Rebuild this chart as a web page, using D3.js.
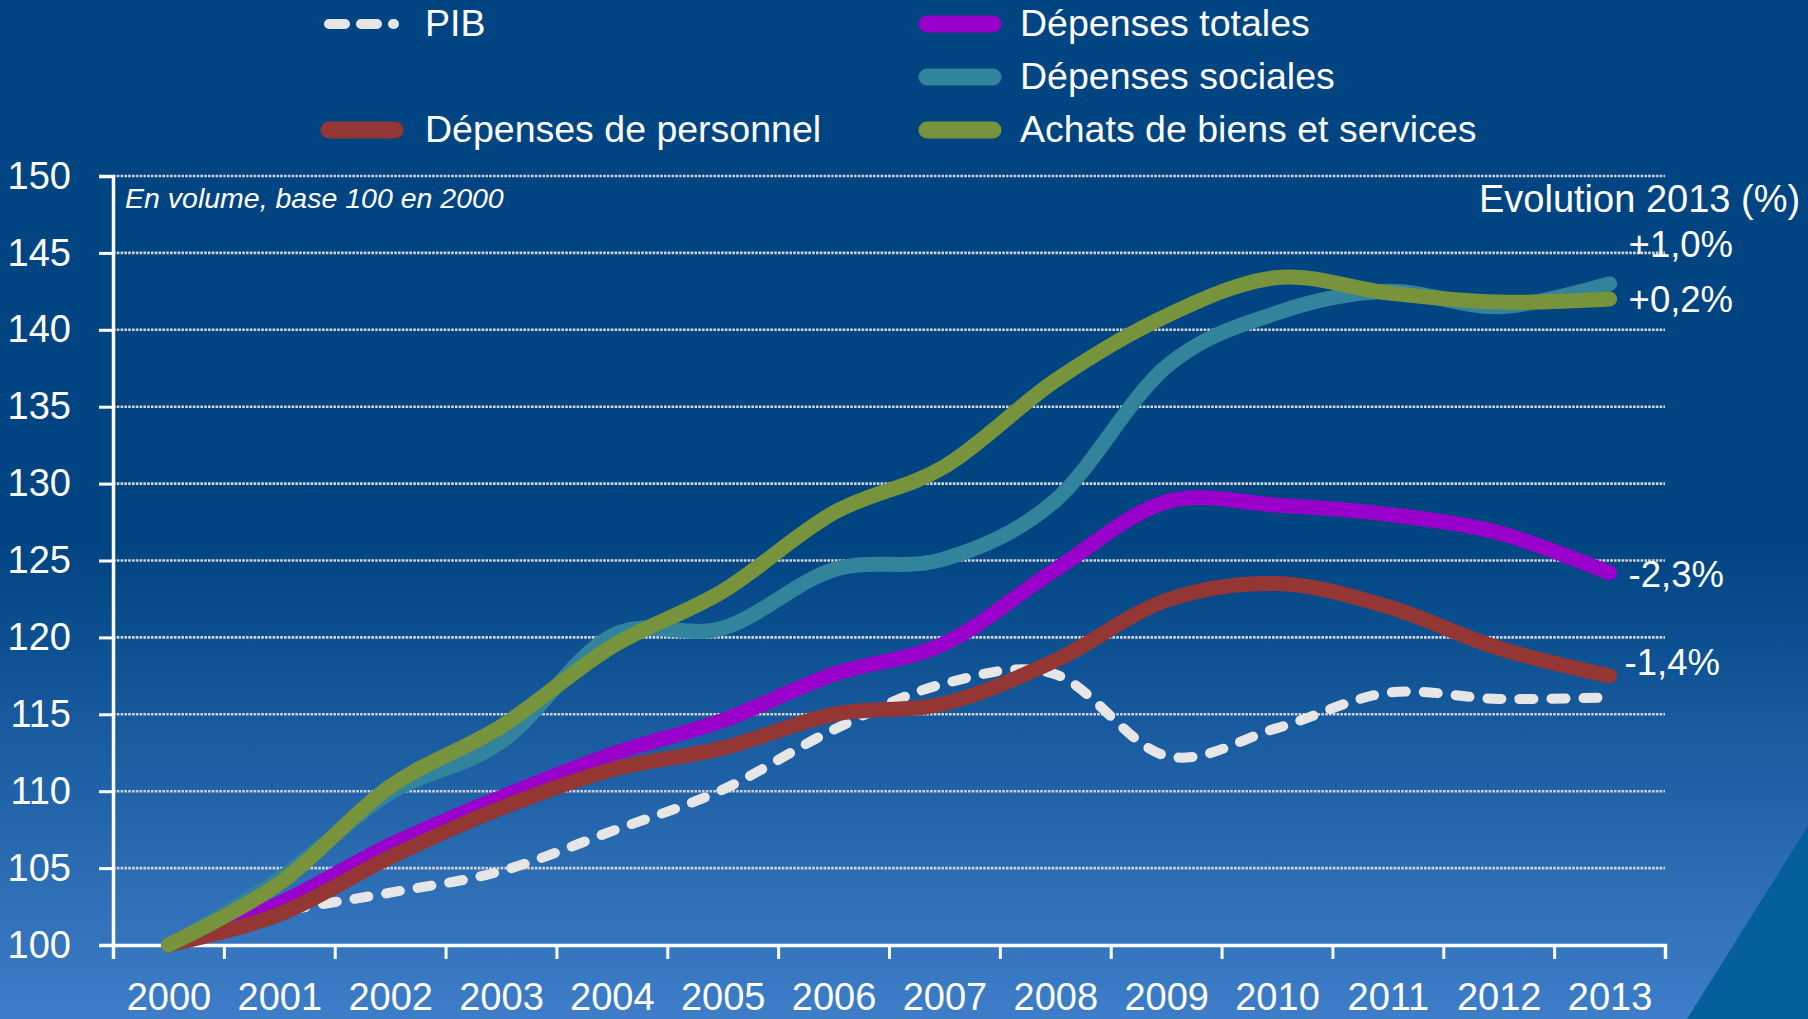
<!DOCTYPE html>
<html>
<head>
<meta charset="utf-8">
<script src="https://cdn.jsdelivr.net/npm/d3@7"></script>
<style>
html, body { margin: 0; padding: 0; background: #004482; overflow: hidden; }
svg { display: block; font-family: "Liberation Sans", Arial, sans-serif; }
</style>
</head>
<body>
<svg id="chart" width="1808" height="1019"></svg>
<script>
// --- données (volume, base 100 en 2000) ---
const years = [2000, 2001, 2002, 2003, 2004, 2005, 2006, 2007, 2008, 2009, 2010, 2011, 2012, 2013];
const pib          = [100, 102.1, 103.4, 104.8, 107.4, 110.1, 114.0, 117.0, 117.6, 112.3, 114.1, 116.4, 116.0, 116.1];
const depTotales   = [100, 102.7, 106.5, 109.6, 112.4, 114.6, 117.6, 119.6, 124.4, 128.8, 128.6, 128.0, 126.8, 124.2];
const depSociales  = [100, 104.3, 109.9, 113.2, 120.1, 120.6, 124.4, 125.1, 128.9, 137.6, 141.1, 142.5, 141.5, 143.0];
const depPersonnel = [100, 102.0, 105.7, 108.9, 111.4, 112.8, 115.0, 115.7, 118.5, 122.4, 123.5, 122.0, 119.3, 117.5];
const achats       = [100, 104.0, 110.3, 114.2, 119.4, 123.0, 128.1, 131.1, 136.7, 140.9, 143.4, 142.4, 141.8, 142.0];

const seriesNames = ["PIB", "Dépenses totales", "Dépenses sociales", "Dépenses de personnel", "Achats de biens et services"];
const yTicks = [100, 105, 110, 115, 120, 125, 130, 135, 140, 145, 150];
const evolution = ["+1,0%", "+0,2%", "-2,3%", "-1,4%"];

// --- mise en page ---
const W = 1808, H = 1019;
const plotLeft = 113, plotRight = 1665, plotTop = 176, plotBottom = 945;

const svg = d3.select("#chart");

// fond dégradé
const grad = svg.append("defs").append("linearGradient")
    .attr("id", "bg").attr("gradientUnits", "userSpaceOnUse")
    .attr("x1", 0).attr("y1", 0).attr("x2", 0).attr("y2", H);
grad.append("stop").attr("offset", 0).attr("stop-color", "#004482");
grad.append("stop").attr("offset", 0.53).attr("stop-color", "#004482");
grad.append("stop").attr("offset", 1).attr("stop-color", "#3e7ec9");
svg.append("rect").attr("width", W).attr("height", H).attr("fill", "url(#bg)");
svg.append("polygon").attr("points", "1808,826 1687,1019 1808,1019").attr("fill", "#045f9a");

const x = d3.scaleLinear().domain([1999.5, 2013.5]).range([plotLeft, plotRight]);
const y = d3.scaleLinear().domain([100, 150]).range([plotBottom, plotTop]);

// grille pointillée
svg.append("g")
    .selectAll("line")
    .data(yTicks.filter(d => d > 100))
    .enter()
    .append("line")
    .attr("x1", plotLeft).attr("x2", plotRight)
    .attr("y1", d => y(d)).attr("y2", d => y(d))
    .attr("stroke", "#d4d4d4")
    .attr("stroke-width", 2.6)
    .attr("stroke-dasharray", "2.6,1.2");

// axe Y
const yAxis = svg.append("g")
    .attr("transform", `translate(${plotLeft},0)`)
    .call(d3.axisLeft(y).tickValues(yTicks).tickSize(14).tickPadding(28));
yAxis.selectAll("text").attr("fill", "#fff").attr("font-size", 38).attr("font-family", null);

// axe X (graduations entre les années)
const boundaries = d3.range(1999.5, 2014, 1);
const xAxis = svg.append("g")
    .attr("transform", `translate(0,${plotBottom})`)
    .call(d3.axisBottom(x).tickValues(boundaries).tickSize(14).tickFormat(""));

const xLabels = svg.append("g")
    .attr("transform", `translate(0,${plotBottom})`)
    .call(d3.axisBottom(x).tickValues(years).tickSize(0).tickFormat(d3.format("d")));
xLabels.select(".domain").remove();
xLabels.selectAll("text")
    .attr("y", 65).attr("dy", 0)
    .attr("fill", "#fff").attr("font-size", 38).attr("font-family", null);

[yAxis, xAxis].forEach(g => {
    g.select(".domain").attr("stroke", "#fff").attr("stroke-width", 3.5);
    g.selectAll(".tick line").attr("stroke", "#fff").attr("stroke-width", 3);
});

// séries
const series = [
    { name: seriesNames[0], values: pib,          color: "#e6e6e6", width: 10, dash: "14,18" },
    { name: seriesNames[1], values: depTotales,   color: "#9900cc", width: 15 },
    { name: seriesNames[3], values: depPersonnel, color: "#943634", width: 15 },
    { name: seriesNames[2], values: depSociales,  color: "#31849b", width: 15 },
    { name: seriesNames[4], values: achats,       color: "#77933c", width: 15 }
];

const line = d3.line()
    .x((d, i) => x(years[i]))
    .y(d => y(d))
    .curve(d3.curveCardinal.tension(0));

svg.append("g")
    .selectAll("path")
    .data(series)
    .enter()
    .append("path")
    .attr("d", d => line(d.values))
    .attr("fill", "none")
    .attr("stroke", d => d.color)
    .attr("stroke-width", d => d.width)
    .attr("stroke-linecap", "round")
    .attr("stroke-linejoin", "round")
    .attr("stroke-dasharray", d => d.dash || null);

// légende
const legendItems = [
    { s: series[0], x: 329, y: 24 },
    { s: series[2], x: 329, y: 130 },
    { s: series[1], x: 927, y: 24 },
    { s: series[3], x: 927, y: 77 },
    { s: series[4], x: 927, y: 130 }
];
const legend = svg.append("g");
legendItems.forEach(item => {
    let isDash = !!item.s.dash;
    legend.append("line")
        .attr("x1", item.x).attr("x2", item.x + (isDash ? 65 : 66))
        .attr("y1", item.y).attr("y2", item.y)
        .attr("stroke", item.s.color)
        .attr("stroke-width", isDash ? 10 : 17)
        .attr("stroke-linecap", "round")
        .attr("stroke-dasharray", isDash ? "16,16" : null);
    legend.append("text")
        .attr("x", item.x + 96 - (item.x > 500 ? 3 : 0))
        .attr("y", item.y + 12)
        .attr("fill", "#fff")
        .attr("font-size", 37.5)
        .text(item.s.name);
});

// textes
svg.append("text")
    .attr("x", 125).attr("y", 208)
    .attr("fill", "#fff").attr("font-size", 28.5).attr("font-style", "italic")
    .text("En volume, base 100 en 2000");

svg.append("text")
    .attr("x", 1479).attr("y", 212)
    .attr("fill", "#fff").attr("font-size", 38)
    .text("Evolution 2013 (%)");

// étiquettes d'évolution en fin de courbe
const endSeries = [depSociales, achats, depTotales, depPersonnel];
const endOffset = [-27, 13, 14, -1];
svg.append("g")
    .selectAll("text")
    .data(evolution)
    .enter()
    .append("text")
    .attr("x", (d, i) => x(2013) + (i === 3 ? 15 : 19))
    .attr("y", (d, i) => y(endSeries[i][endSeries[i].length - 1]) + endOffset[i])
    .attr("fill", "#fff")
    .attr("font-size", 36.5)
    .text(d => d);
</script>
</body>
</html>
